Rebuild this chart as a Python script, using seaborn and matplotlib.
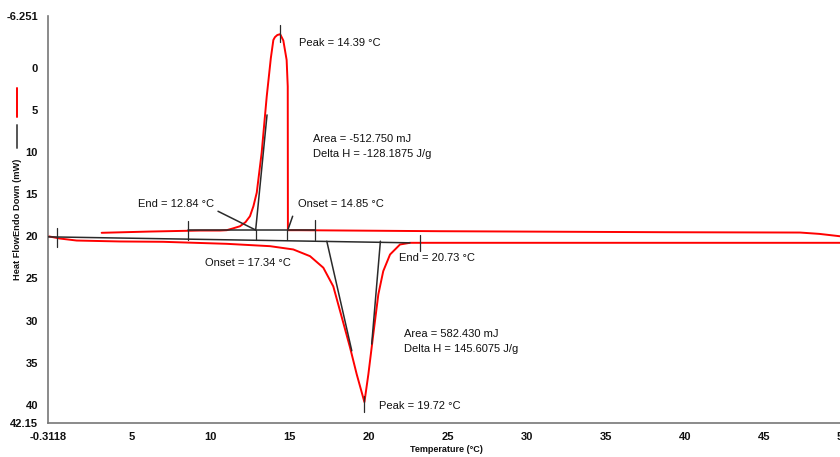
import matplotlib
matplotlib.use("Agg")
import matplotlib.pyplot as plt
import seaborn as sns
import pandas as pd
from matplotlib.lines import Line2D

# ---- data ----
# cooling run (exothermic crystallisation peak)
cool_T = [3.10, 6.16, 9.32, 10.59, 11.01, 11.40, 11.85, 12.20, 12.48, 12.70, 12.91,
          13.22, 13.54, 13.80, 13.96, 14.06, 14.21, 14.39, 14.59, 14.80, 14.87, 14.88,
          15.65, 24.50, 38.73, 47.28, 48.50, 49.80]
cool_HF = [19.57, 19.42, 19.30, 19.30, 19.26, 19.05, 18.79, 18.30, 17.60, 16.40, 14.79,
           10.05, 3.37, -1.20, -3.36, -3.70, -3.95, -4.05, -3.30, -0.98, 2.18, 19.26,
           19.26, 19.38, 19.50, 19.54, 19.70, 19.98]
# heating run (endothermic melting peak)
heat_T = [-0.31, 0.46, 1.52, 4.26, 6.98, 11.01, 13.75, 15.22, 16.28, 17.12, 17.75,
          18.18, 18.81, 19.23, 19.72, 19.97, 20.28, 20.60, 20.91, 21.34, 21.97, 22.60,
          23.23, 49.80]
heat_HF = [19.97, 20.25, 20.49, 20.60, 20.64, 20.88, 21.16, 21.55, 22.35, 23.72, 25.94,
           28.87, 33.21, 36.38, 39.70, 36.38, 31.64, 26.89, 24.13, 22.15, 20.96, 20.76,
           20.76, 20.76]

# analysis lines (baselines / tangents)
base_low_T = [-0.31, 22.60]
base_low_HF = [20.05, 20.76]
base_up_T = [8.57, 16.60]
base_up_HF = [19.28, 19.28]
tan_cool_T = [12.84, 13.56]
tan_cool_HF = [19.26, 5.55]
tan_heat_left_T = [17.34, 18.92]
tan_heat_left_HF = [20.57, 33.60]
tan_heat_right_T = [20.73, 20.18]
tan_heat_right_HF = [20.57, 32.80]
# short vertical markers: (T, HF from, HF to)
marker_T = [0.26, 8.56, 16.59, 23.23, 12.84, 14.85, 14.39, 19.72]
marker_HF0 = [18.94, 18.20, 18.00, 19.78, 19.26, 19.26, -5.14, 39.00]
marker_HF1 = [21.20, 20.37, 20.37, 21.76, 20.37, 20.37, -3.12, 40.90]
# pointer lines
ptr_end_T = [10.46, 12.80]
ptr_end_HF = [17.01, 19.20]
ptr_on_T = [15.18, 14.90]
ptr_on_HF = [17.60, 19.10]

# annotations: text, T, HF
ann_text = ["Peak = 14.39 °C", "Area = -512.750 mJ", "Delta H = -128.1875 J/g",
            "End = 12.84 °C", "Onset = 14.85 °C", "Onset = 17.34 °C", "End = 20.73 °C",
            "Area = 582.430 mJ", "Delta H = 145.6075 J/g", "Peak = 19.72 °C"]
ann_T = [15.58, 16.49, 16.49, 5.42, 15.54, 9.64, 21.93, 22.24, 22.24, 20.64]
ann_HF = [-3.04, 8.39, 10.17, 16.10, 16.10, 23.13, 22.54, 31.64, 33.33, 40.20]

x_ticks = [-0.3118, 0, 5, 10, 15, 20, 25, 30, 35, 40, 45, 50]
x_tick_labels = ["-0.3118", "", "5", "10", "15", "20", "25", "30", "35", "40", "45", "50"]
y_ticks = [-6.251, -5, 0, 5, 10, 15, 20, 25, 30, 35, 40, 42.15]
y_tick_labels = ["-6.251", "", "0", "5", "10", "15", "20", "25", "30", "35", "40", "42.15"]

# ---- style ----
sns.set_style("white")
plt.rcParams["font.family"] = ["Liberation Sans", "DejaVu Sans"]

fig = plt.figure(figsize=(8.4, 4.57), dpi=100)
ax = fig.add_axes([0.0568, 0.0751, 0.9658, 0.8906])

RED = "#ff0000"
DARK = "#2a2a2a"

cool_df = pd.DataFrame({"T": cool_T, "HF": cool_HF})
heat_df = pd.DataFrame({"T": heat_T, "HF": heat_HF})
sns.lineplot(data=heat_df, x="T", y="HF", ax=ax, color=RED, lw=1.4,
             sort=False, estimator=None)
sns.lineplot(data=cool_df, x="T", y="HF", ax=ax, color=RED, lw=1.4,
             sort=False, estimator=None)

for xs, ys in [(base_low_T, base_low_HF), (base_up_T, base_up_HF),
               (tan_cool_T, tan_cool_HF), (tan_heat_left_T, tan_heat_left_HF),
               (tan_heat_right_T, tan_heat_right_HF), (ptr_end_T, ptr_end_HF),
               (ptr_on_T, ptr_on_HF)]:
    ax.plot(xs, ys, color=DARK, lw=1.1, zorder=3)
for t, a, b in zip(marker_T, marker_HF0, marker_HF1):
    ax.plot([t, t], [a, b], color=DARK, lw=0.9, zorder=3)

for s, t, h in zip(ann_text, ann_T, ann_HF):
    ax.text(t, h, s, ha="left", va="center", fontsize=8, color="#111111")

ax.set_xlim(-0.3118, 51.0)
ax.set_ylim(42.15, -6.251)
ax.set_xticks(x_ticks)
ax.set_xticklabels(x_tick_labels)
ax.set_yticks(y_ticks)
ax.set_yticklabels(y_tick_labels)
for lab in ax.get_xticklabels() + ax.get_yticklabels():
    lab.set_fontweight("bold")
    lab.set_fontsize(8)
    lab.set_color("#111111")
ax.tick_params(axis="both", direction="out", length=4, width=0.9, color="#666666")
ax.tick_params(axis="x", pad=3)
ax.tick_params(axis="y", pad=3)
ax.set_xlabel("")
ax.set_ylabel("")
for side in ["top", "right"]:
    ax.spines[side].set_visible(False)
for side in ["left", "bottom"]:
    ax.spines[side].set_color("#777777")
    ax.spines[side].set_linewidth(1.2)

fig.text(446 / 840, 1 - 449 / 457, "Temperature (°C)", ha="center", va="center",
         fontsize=6.5, fontweight="bold", color="#111111")
fig.text(18 / 840, 1 - 219 / 457, "Heat FlowEndo Down (mW)", ha="center", va="center",
         rotation=90, fontsize=6.7, fontweight="bold", color="#111111")
fig.add_artist(Line2D([17.3 / 840] * 2, [1 - 88 / 457, 1 - 117 / 457],
                      color=RED, lw=1.4, transform=fig.transFigure))
fig.add_artist(Line2D([17.3 / 840] * 2, [1 - 125 / 457, 1 - 148 / 457],
                      color="#555555", lw=1.4, transform=fig.transFigure))

fig.savefig("out.png", dpi=100)
